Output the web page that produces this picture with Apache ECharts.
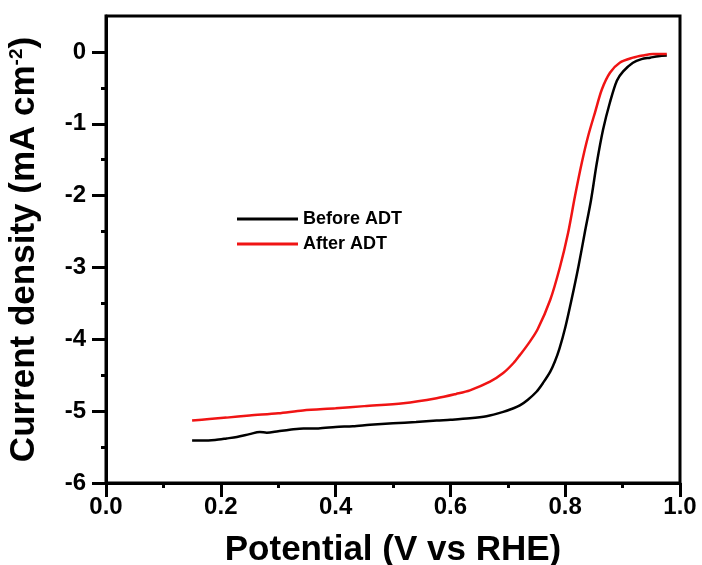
<!DOCTYPE html>
<html>
<head>
<meta charset="utf-8">
<script src="https://cdn.jsdelivr.net/npm/echarts@6/dist/echarts.min.js"></script>
<style>
html,body{margin:0;padding:0;background:#fff;}
#c{width:702px;height:565px;}
</style>
</head>
<body>
<div id="c"></div>
<script>
var seriesNames = ['Before ADT', 'After ADT'];
var beforeV = [0.150,0.170,0.190,0.210,0.228,0.250,0.268,0.280,0.300,0.320,0.344,0.370,0.400,0.430,0.460,0.500,0.540,0.576,0.600,0.634,0.663,0.692,0.710,0.721,0.735,0.750,0.762,0.774,0.782,0.790,0.800,0.811,0.823,0.834,0.845,0.855,0.866,0.878,0.890,0.901,0.918,0.933,0.948,0.962,0.977];
var beforeJ = [-5.41,-5.41,-5.40,-5.38,-5.36,-5.32,-5.29,-5.30,-5.28,-5.26,-5.24,-5.24,-5.22,-5.21,-5.19,-5.17,-5.15,-5.13,-5.12,-5.10,-5.07,-5.01,-4.96,-4.92,-4.84,-4.73,-4.60,-4.45,-4.31,-4.13,-3.84,-3.45,-2.99,-2.52,-2.06,-1.55,-1.08,-0.70,-0.40,-0.27,-0.15,-0.10,-0.08,-0.06,-0.05];
var afterV = [0.150,0.180,0.210,0.250,0.300,0.343,0.400,0.450,0.518,0.576,0.610,0.634,0.669,0.692,0.710,0.721,0.736,0.752,0.774,0.791,0.805,0.817,0.829,0.840,0.852,0.864,0.878,0.895,0.918,0.935,0.953,0.977];
var afterJ = [-5.13,-5.11,-5.09,-5.06,-5.03,-4.99,-4.96,-4.93,-4.89,-4.82,-4.76,-4.71,-4.59,-4.47,-4.33,-4.22,-4.06,-3.86,-3.45,-2.99,-2.52,-2.01,-1.54,-1.17,-0.84,-0.52,-0.29,-0.15,-0.08,-0.05,-0.03,-0.03];
var xMajor = [0, 0.2, 0.4, 0.6, 0.8, 1.0];
var xMinor = [0.1, 0.3, 0.5, 0.7, 0.9];
var yMajor = [-6,-5,-4,-3,-2,-1,0];
var yMinor = [-5.5,-4.5,-3.5,-2.5,-1.5,-0.5];

function pairs(a, b) { return a.map(function (v, i) { return [v, b[i]]; }); }

var FONT = 'Liberation Sans, Arial, sans-serif';
var BLACK = '#000';
function tickAxisX(vals, len) {
  return {type: 'value', min: 0, max: 1, position: 'bottom',
    axisLine: {show: false, onZero: false},
    axisTick: {show: true, inside: false, length: len, customValues: vals, lineStyle: {color: BLACK, width: 3}},
    axisLabel: {show: false}, splitLine: {show: false}};
}
function tickAxisY(vals, len) {
  return {type: 'value', min: -6, max: 0.5, position: 'left',
    axisLine: {show: false, onZero: false},
    axisTick: {show: true, inside: false, length: len, customValues: vals, lineStyle: {color: BLACK, width: 3}},
    axisLabel: {show: false}, splitLine: {show: false}};
}
var chart = echarts.init(document.getElementById('c'), null, {renderer: 'canvas'});
chart.setOption({
  animation: false,
  backgroundColor: '#fff',
  grid: {left: 106, right: 22, top: 16, bottom: 82, outerBoundsMode: 'none', show: true, borderColor: BLACK, borderWidth: 3, backgroundColor: 'transparent'},
  legend: {
    data: seriesNames,
    orient: 'vertical',
    left: 237, top: 210, padding: 0,
    itemWidth: 61, itemHeight: 3, itemGap: 7,
    icon: 'rect',
    textStyle: {fontFamily: FONT, fontWeight: 'bold', fontSize: 18, color: BLACK, lineHeight: 18}
  },
  xAxis: [{
    type: 'value', min: 0, max: 1, interval: 0.2, position: 'bottom',
    name: 'Potential (V vs RHE)', nameLocation: 'middle', nameGap: 50,
    nameTextStyle: {fontFamily: FONT, fontWeight: 'bold', fontSize: 35, color: BLACK},
    axisLine: {show: true, onZero: false, lineStyle: {color: BLACK, width: 3}},
    axisTick: {show: false},
    axisLabel: {margin: 12, fontFamily: FONT, fontWeight: 'bold', fontSize: 24, color: BLACK, formatter: function (v) { return v.toFixed(1); }},
    splitLine: {show: false}
  }, tickAxisX(xMajor, 14), tickAxisX(xMinor, 5)],
  yAxis: [{
    type: 'value', min: -6, max: 0.5, position: 'left',
    name: '{a|Current density (mA cm}{s|-2}{a|)}', nameLocation: 'middle', nameGap: 64, nameRotate: 90,
    nameTextStyle: {rich: {
      a: {fontFamily: FONT, fontWeight: 'bold', fontSize: 35, color: BLACK},
      s: {fontFamily: FONT, fontWeight: 'bold', fontSize: 19, color: BLACK, verticalAlign: 'top', padding: [0, 0, 14, 0]}
    }},
    axisLine: {show: true, onZero: false, lineStyle: {color: BLACK, width: 3}},
    axisTick: {show: false},
    axisLabel: {margin: 20, customValues: yMajor, fontFamily: FONT, fontWeight: 'bold', fontSize: 24, color: BLACK},
    splitLine: {show: false}
  }, tickAxisY(yMajor, 14), tickAxisY(yMinor, 5)],
  series: [{
    name: seriesNames[0], type: 'line', symbol: 'none', smooth: 0.3,
    data: pairs(beforeV, beforeJ),
    itemStyle: {color: BLACK},
    lineStyle: {color: BLACK, width: 2.5}
  }, {
    name: seriesNames[1], type: 'line', symbol: 'none', smooth: 0.3,
    data: pairs(afterV, afterJ),
    itemStyle: {color: '#f01414'},
    lineStyle: {color: '#f01414', width: 2.5}
  }]
});
</script>
</body>
</html>
